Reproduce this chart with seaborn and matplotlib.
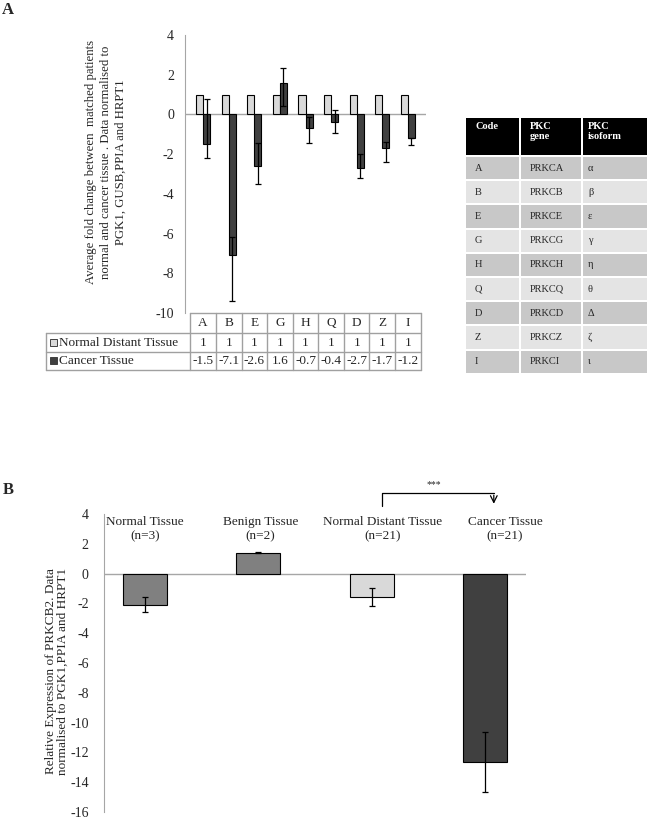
"""PKC isoform expression: matched-pair fold change (A) and PRKCB2 by tissue (B)."""
import matplotlib
matplotlib.use("Agg")
import matplotlib.pyplot as plt
from matplotlib.patches import Rectangle
import numpy as np
import pandas as pd
import seaborn as sns

# ---- data, panel A ----
codes = ["A", "B", "E", "G", "H", "Q", "D", "Z", "I"]
normal_vals = [1, 1, 1, 1, 1, 1, 1, 1, 1]
cancer_vals = [-1.5, -7.1, -2.6, 1.6, -0.7, -0.4, -2.7, -1.7, -1.2]
cancer_err_top = [0.76, -6.18, -1.45, 2.32, -0.12, 0.2, -1.97, -1.41, -1.2]
cancer_err_bottom = [-2.18, -9.38, -3.5, 0.4, -1.43, -0.92, -3.19, -2.42, -1.55]
series_names = ["Normal Distant Tissue", "Cancer Tissue"]

# PKC lookup table
pkc_genes = ["PRKCA", "PRKCB", "PRKCE", "PRKCG", "PRKCH", "PRKCQ", "PRKCD", "PRKCZ", "PRKCI"]
pkc_isoforms = ["α", "β", "ε", "γ", "η", "θ", "Δ", "ζ", "ι"]

# ---- data, panel B ----
groups = ["Normal Tissue", "Benign Tissue", "Normal Distant Tissue", "Cancer Tissue"]
group_n = [3, 2, 21, 21]
prkcb2_vals = [-2.1, 1.4, -1.6, -12.65]
prkcb2_err = [0.5, 0.05, 0.6, 2.0]

sns.set_style("white")
plt.rcParams["font.family"] = ["Liberation Serif", "DejaVu Serif"]
plt.rcParams["axes.unicode_minus"] = False

W, H = 650, 821
fig = plt.figure(figsize=(W / 100, H / 100), dpi=100)


def box(x0, y0, x1, y1):
    # pixel box (top-left origin) -> figure fraction rect
    return [x0 / W, 1 - y1 / H, (x1 - x0) / W, (y1 - y0) / H]


axis_grey = "#a6a6a6"
light, mid, dark = "#d9d9d9", "#808080", "#404040"

# ================= Panel A =================
axA = fig.add_axes(box(185, 35, 426, 313))
dfA = pd.DataFrame({
    "code": codes * 2,
    "tissue": [series_names[0]] * len(codes) + [series_names[1]] * len(codes),
    "value": normal_vals + cancer_vals,
})
sns.barplot(data=dfA, x="code", y="value", hue="tissue", palette=[light, dark],
            width=0.56, gap=0, edgecolor="black", linewidth=0.8,
            errorbar=None, legend=False, ax=axA)
cv = np.array(cancer_vals)
axA.errorbar(np.arange(len(codes)) + 0.14, cv,
             yerr=[cv - np.array(cancer_err_bottom), np.array(cancer_err_top) - cv],
             fmt="none", ecolor="black", elinewidth=0.9, capsize=2.5, capthick=0.9)
axA.axhline(0, color=axis_grey, lw=1, zorder=0)
axA.set_ylim(-10, 4)
axA.set_yticks(range(-10, 5, 2))
axA.set_xticks([])
axA.set_xlabel("")
axA.set_ylabel("")
for s in ["top", "right", "bottom"]:
    axA.spines[s].set_visible(False)
axA.spines["left"].set_color(axis_grey)
axA.tick_params(axis="y", length=0, pad=8, labelsize=10)

fig.text(106 / W, 1 - 162 / H,
         "Average fold change between  matched patients\n"
         "normal and cancer tissue . Data normalised to\n"
         "PGK1, GUSB,PPIA and HRPT1",
         rotation=90, ha="center", va="center", fontsize=9.2, linespacing=1.3)

# overlay in pixel units for the tables
ov = fig.add_axes([0, 0, 1, 1], zorder=5)
ov.set_xlim(0, W)
ov.set_ylim(H, 0)
ov.axis("off")

fig.canvas.draw()
col_px = [axA.transData.transform((k - 0.5, 0))[0] for k in range(len(codes) + 1)]
tbl_grey = "#a0a0a0"
row_y = [313, 333, 352, 370]
left_px = 46
ov.plot([col_px[0], col_px[-1]], [row_y[0]] * 2, color=tbl_grey, lw=1)
for y in row_y[1:]:
    ov.plot([left_px, col_px[-1]], [y, y], color=tbl_grey, lw=1)
for x in col_px:
    ov.plot([x, x], [row_y[0], row_y[-1]], color=tbl_grey, lw=1)
ov.plot([left_px, left_px], [row_y[1], row_y[-1]], color=tbl_grey, lw=1)
for k, c in enumerate(codes):
    xc = (col_px[k] + col_px[k + 1]) / 2
    ov.text(xc, (row_y[0] + row_y[1]) / 2, c, ha="center", va="center", fontsize=9.5)
    ov.text(xc, (row_y[1] + row_y[2]) / 2, f"{normal_vals[k]:g}", ha="center", va="center", fontsize=9.5)
    ov.text(xc, (row_y[2] + row_y[3]) / 2, f"{cancer_vals[k]:g}", ha="center", va="center", fontsize=9.5)
for i, (name, col) in enumerate(zip(series_names, [light, dark])):
    yc = (row_y[i + 1] + row_y[i + 2]) / 2
    ov.add_patch(Rectangle((50, yc - 3.5), 7, 7, facecolor=col, edgecolor="#404040", lw=0.7))
    ov.text(59, yc, name, ha="left", va="center", fontsize=9.5)

# PKC code table on the right
tx = [465, 520, 582, 648]
hdr = ["Code", "PKC\ngene", "PKC\nisoform"]
txt_x = [475, 530, 588]
for j in range(3):
    ov.add_patch(Rectangle((tx[j] + 1, 118), tx[j + 1] - tx[j] - 2, 37, facecolor="black", lw=0))
    ov.text(txt_x[j], 122, hdr[j], ha="left", va="top", color="white",
            fontsize=7.5, fontweight="bold", linespacing=1.2)
row_h = 24.2
for i, (c, g, iso) in enumerate(zip(codes, pkc_genes, pkc_isoforms)):
    y0 = 157 + i * row_h
    fc = "#c8c8c8" if i % 2 == 0 else "#e4e4e4"
    for j, t in enumerate([c, g, iso]):
        ov.add_patch(Rectangle((tx[j] + 1, y0), tx[j + 1] - tx[j] - 2, row_h - 2, facecolor=fc, lw=0))
        ov.text(txt_x[j], y0 + (row_h - 2) / 2, t, ha="left", va="center", fontsize=7.5)

fig.text(2 / W, 1 - 10 / H, "A", fontsize=12, fontweight="bold", va="center", ha="left")
fig.text(3 / W, 1 - 490 / H, "B", fontsize=12, fontweight="bold", va="center", ha="left")

# ================= Panel B =================
axB = fig.add_axes(box(104, 514, 526, 812))
sns.barplot(x=groups, y=prkcb2_vals, hue=groups, palette=[mid, mid, light, dark],
            width=0.39, edgecolor="black", linewidth=0.8, errorbar=None,
            legend=False, ax=axB)
axB.errorbar(np.arange(len(groups)), prkcb2_vals, yerr=prkcb2_err, fmt="none",
             ecolor="black", elinewidth=0.9, capsize=2.5, capthick=0.9)
axB.axhline(0, color=axis_grey, lw=1, zorder=0)
axB.set_ylim(-16, 4)
axB.set_yticks(range(-16, 5, 2))
axB.set_xticks([])
axB.set_xlabel("")
axB.set_ylabel("")
for s in ["top", "right", "bottom"]:
    axB.spines[s].set_visible(False)
axB.spines["left"].set_color(axis_grey)
axB.tick_params(axis="y", length=0, pad=11, labelsize=10)

label_shift = [0.0, 0.02, 0.1, 0.18]
for k, (g, n) in enumerate(zip(groups, group_n)):
    axB.text(k + label_shift[k], 3.0, f"{g}\n(n={n})", ha="center", va="center",
             fontsize=9.5, linespacing=1.25, clip_on=False)

axB.plot([2.09, 2.09, 3.08], [4.55, 5.4, 5.4], color="black", lw=0.9, clip_on=False)
axB.annotate("", xy=(3.08, 4.5), xytext=(3.08, 5.45),
             arrowprops=dict(arrowstyle="->", lw=0.9, color="black", mutation_scale=12),
             annotation_clip=False)
axB.text(2.55, 5.95, "***", ha="center", va="center", fontsize=7, clip_on=False)

fig.text(57 / W, 1 - 671 / H,
         "Relative Expression of PRKCB2. Data\nnormalised to PGK1,PPIA and HRPT1",
         rotation=90, ha="center", va="center", fontsize=9.5, linespacing=1.0)

fig.savefig("out.png", dpi=100)
plt.close(fig)
